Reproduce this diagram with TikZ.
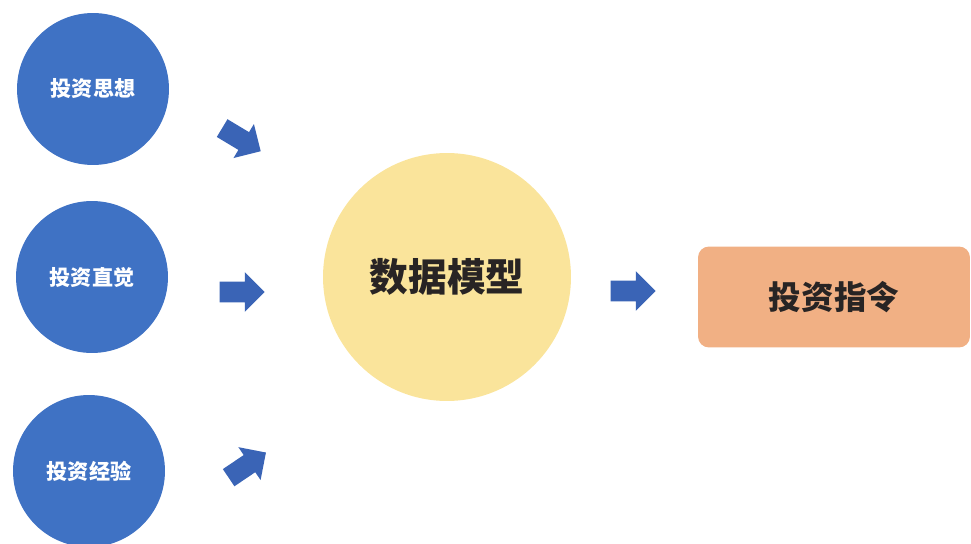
\documentclass[tikz,border=0pt]{standalone}
\usepackage{fontspec}
\newfontfamily\cjk{Noto Sans CJK SC}
\usepackage{tikz}
\usetikzlibrary{shapes.arrows}
\definecolor{cblue}{RGB}{63,114,196}
\definecolor{ablue}{RGB}{58,100,182}
\definecolor{cyellow}{RGB}{250,228,155}
\definecolor{corange}{RGB}{241,176,132}
\definecolor{ctext}{RGB}{40,36,36}

\begin{document}
\begin{tikzpicture}[x=0.02cm, y=-0.02cm,
  src/.style={circle, fill=cblue, minimum size=3.04cm, inner sep=0pt, text=white, font=\cjk\bfseries\fontsize{12}{14}\selectfont},
  blockarrow/.style={single arrow, fill=ablue, minimum height=0.9cm, minimum width=0.78cm, single arrow head extend=0.19cm, inner xsep=0pt, inner ysep=0.2cm}]
\useasboundingbox (0,0) rectangle (971,544);
\node (S1)[src] at (93,89) {投资思想};
\node (S2)[src] at (92,277) {投资直觉};
\node (S3)[src] at (89,471) {投资经验};
\node (A1)[blockarrow, rotate=-31] at (237,137) {};
\node (A2)[blockarrow] at (237,292) {};
\node (A3)[blockarrow, rotate=34] at (243,468) {};
\node (D)[circle, fill=cyellow, minimum size=4.96cm, inner sep=0pt, text=ctext, font=\cjk\bfseries\fontsize{22}{26}\selectfont] at (447,277) {数据模型};
\node (A4)[blockarrow] at (628,291) {};
\node (R)[rectangle, rounded corners=0.22cm, fill=corange, minimum width=5.44cm, minimum height=2.02cm, text=ctext, font=\cjk\bfseries\fontsize{18.5}{22}\selectfont] at (834,297) {投资指令};
\end{tikzpicture}
\end{document}
